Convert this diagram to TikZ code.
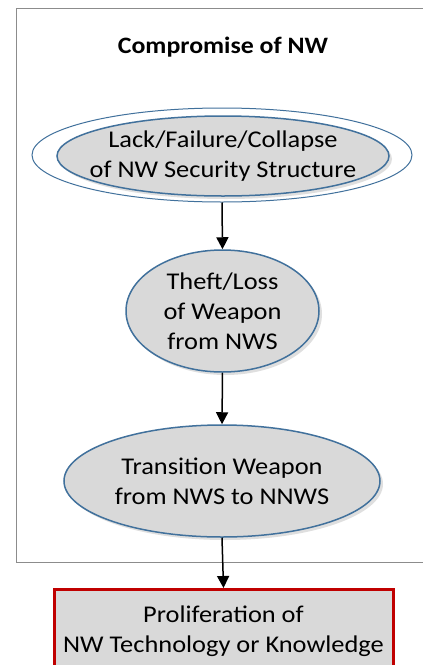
\documentclass[tikz,border=0pt]{standalone}
\usepackage{fontspec}
\setmainfont{Carlito}[FakeStretch=1.1]
\usetikzlibrary{shapes.geometric,arrows.meta,shadows}
\definecolor{nodefill}{HTML}{D9D9D9}
\definecolor{nodeedge}{HTML}{41719C}
\definecolor{boxred}{HTML}{C00000}
\definecolor{framegray}{HTML}{8C8C8C}
\begin{document}
\begin{tikzpicture}[x=1pt,y=-1pt,
  txt/.style={font=\fontsize{24}{30}\selectfont, align=center, text=black},
  oval/.style={ellipse, draw=nodeedge, line width=1.5pt, fill=nodefill,
    inner xsep=-25pt, inner ysep=-6pt, txt,
    drop shadow={opacity=0.25, shadow xshift=3pt, shadow yshift=-3pt}},
  arr/.style={-{Triangle[width=12pt,length=12pt]}, line width=1.5pt, black}]
\useasboundingbox (0,0) rectangle (423,665);
\clip (0,0) rectangle (423,665);
\fill[white] (0,0) rectangle (423,665);
\node[draw=framegray, line width=1pt, rectangle, inner sep=0pt,
  minimum width=430pt, minimum height=554pt, anchor=north west] (frame) at (16,8) {};
\node[txt, font=\bfseries\fontsize{23.5}{28}\selectfont] (title) at (223,47) {Compromise of NW};
\node[ellipse, draw=nodeedge, line width=1pt, fill=white, inner sep=0pt,
  minimum width=380pt, minimum height=94pt] (outer) at (222,155) {};
\node[oval, minimum width=332pt, minimum height=80pt] (lack) at (223,156)
  {Lack/Failure/Collapse\\of NW Security Structure};
\node[oval, minimum width=193pt, minimum height=122pt] (theft) at (222.5,311)
  {Theft/Loss\\of Weapon\\from NWS};
\node[oval, minimum width=316pt, minimum height=112pt] (trans) at (222,481)
  {Transition Weapon\\from NWS to NNWS};
\node[rectangle, draw=boxred, line width=3pt, fill=nodefill, inner sep=0pt,
  minimum width=339pt, minimum height=120pt, anchor=north] (prolif) at (223.5,588) {};
\node[txt] (proltext) at (223.5,631) {Proliferation of\\NW Technology or Knowledge};
\draw[arr] (outer.south) -- (theft.north);
\draw[arr] (theft.south) -- (trans.north);
\draw[arr] (trans.south) -- (prolif.north);
\end{tikzpicture}
\end{document}
